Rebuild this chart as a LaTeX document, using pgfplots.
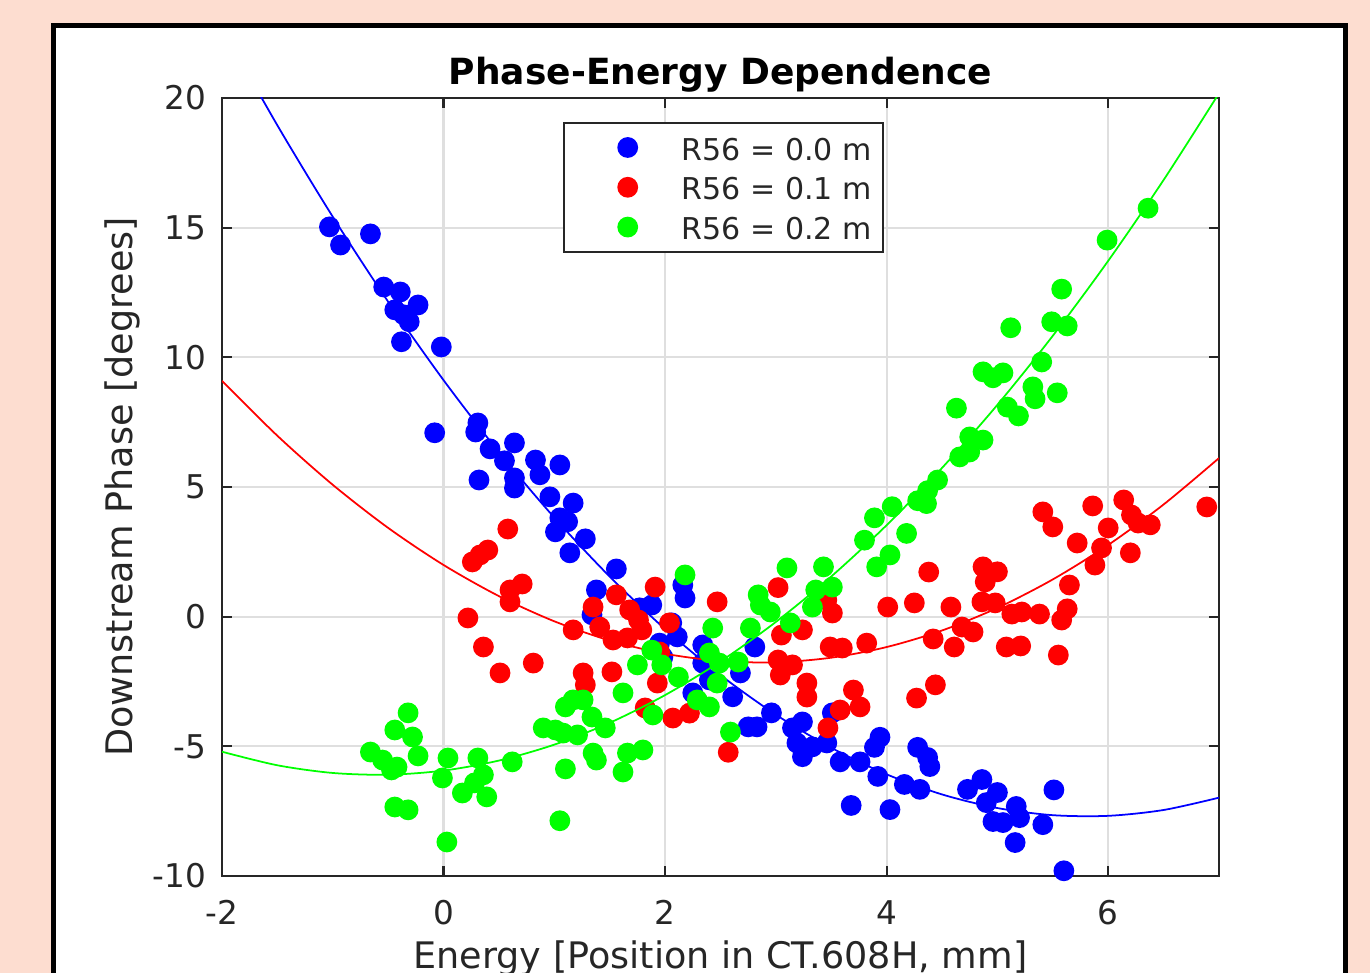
\documentclass[border=0pt]{standalone}
\usepackage{fontspec}
\setmainfont{DejaVu Sans}
\setsansfont{DejaVu Sans}
\usepackage{pgfplots}
\pgfplotsset{compat=1.18}

\definecolor{peach}{RGB}{253,221,208}
\definecolor{axgray}{RGB}{38,38,38}
\definecolor{gridgray}{RGB}{223,223,223}
\definecolor{mblue}{RGB}{0,0,255}
\definecolor{mred}{RGB}{255,0,0}
\definecolor{mgreen}{RGB}{0,255,0}

\begin{document}
\begin{tikzpicture}
\useasboundingbox (-2.22,-0.97) rectangle (11.48,8.76);
\clip (-2.22,-0.97) rectangle (11.48,8.76);
\fill[peach] (-2.22,-0.97) rectangle (11.48,8.76);
\fill[white] (-1.68,-2) rectangle (11.23,8.505);
\draw[black,line width=0.05cm] (-1.68,-2) -- (-1.68,8.505) -- (11.23,8.505) -- (11.23,-2);
\begin{axis}[
  at={(0,0)}, anchor=south west,
  scale only axis, width=9.97cm, height=7.78cm,
  xmin=-2, xmax=7, ymin=-10, ymax=20,
  xtick={-2,0,2,4,6}, xticklabels={-2,0,2,4,6},
  ytick={-10,-5,0,5,10,15,20}, yticklabels={-10,-5,0,5,10,15,20},
  tick align=inside, major tick length=0.1cm,
  xmajorgrids, ymajorgrids,
  grid style={draw=gridgray, line width=0.6pt},
  axis line style={draw=axgray, line width=0.6pt},
  tick style={draw=axgray, line width=0.6pt},
  ticklabel style={font=\fontsize{9.3}{11}\selectfont, text=axgray, inner sep=0pt},
  xticklabel style={yshift=-0.24cm},
  yticklabel style={xshift=-0.15cm},
  title={Phase-Energy Dependence},
  title style={at={(0.5,1)}, anchor=base, yshift=-0.08cm, inner sep=0pt,
    font=\fontsize{10.25}{12}\selectfont\bfseries, text=black},
  xlabel={Energy [Position in CT.608H, mm]},
  xlabel style={at={(axis description cs:0.5,-0.1183)}, anchor=base, inner sep=0pt,
    font=\fontsize{10.4}{12}\selectfont, text=axgray},
  ylabel={Downstream Phase [degrees]},
  ylabel style={at={(axis description cs:-0.0893,0.5)}, anchor=base, inner sep=0pt,
    font=\fontsize{10.4}{12}\selectfont, text=axgray},
  clip mode=individual,
  legend style={at={(axis description cs:0.3417,0.9695)}, anchor=north west,
    draw=axgray, line width=0.6pt, fill=white,
    inner xsep=0.11cm, inner ysep=0.048cm, row sep=0pt, column sep=0pt,
    font=\fontsize{8.55}{10}\selectfont, text=axgray,
    nodes={inner sep=0pt, text height=0.3255cm, text depth=0.0725cm}},
  legend cell align=left,
  legend image code/.code={
    \path[draw=none, fill=none] (0cm,-0.1cm) rectangle (1.07cm,0.1cm);
    \draw[#1] plot coordinates {(0.53cm,0cm)};},
  every axis plot/.append style={line width=0.5pt},
]

% R56 = 0.0 m
\addplot[only marks, mark=*, mark size=0.095cm, color=mblue] table {
x y
-1.03 15.03
-0.93 14.33
-0.66 14.76
-0.54 12.71
-0.39 12.52
-0.23 12.02
-0.44 11.83
-0.36 11.64
-0.31 11.37
-0.38 10.60
-0.02 10.40
-0.08 7.09
0.31 7.47
0.29 7.12
0.42 6.47
0.64 6.70
0.55 6.01
0.83 6.04
1.05 5.85
0.87 5.47
0.64 5.35
0.64 4.96
0.32 5.27
0.96 4.62
1.17 4.38
1.05 3.81
1.12 3.66
1.01 3.27
1.28 3.00
1.14 2.46
1.56 1.84
1.38 1.03
1.34 0.07
1.88 0.45
1.77 0.34
2.16 1.22
2.18 0.72
2.06 -0.24
2.11 -0.78
1.95 -1.02
1.98 -1.56
2.34 -1.09
2.34 -1.79
2.40 -2.44
2.25 -2.94
2.61 -3.09
2.68 -2.17
2.81 -1.17
2.96 -3.71
2.75 -4.25
2.83 -4.25
3.15 -4.29
3.24 -4.06
3.19 -4.87
3.33 -5.02
3.46 -4.87
3.24 -5.40
3.58 -5.60
3.76 -5.60
3.51 -3.71
3.94 -4.65
3.89 -5.04
3.92 -6.16
3.68 -7.28
4.03 -7.44
4.16 -6.47
4.30 -6.66
4.28 -5.04
4.37 -5.43
4.39 -5.78
4.73 -6.66
4.86 -6.28
5.00 -6.78
4.90 -7.17
4.96 -7.90
5.05 -7.94
5.17 -7.32
5.20 -7.75
5.16 -8.71
5.41 -8.02
5.51 -6.68
5.60 -9.80
};
\addlegendentry{R56 = 0.0 m}
\addplot[forget plot, no marks, smooth, color=mblue] table {
x y
-2 22.72
-1.5 18.945
-1 15.42
-0.5 12.145
0 9.12
0.5 6.345
1 3.82
1.5 1.545
2 -0.48
2.5 -2.255
3 -3.78
3.5 -5.055
4 -6.08
4.5 -6.855
5 -7.38
5.5 -7.655
6 -7.68
6.5 -7.455
7 -6.98
};

% R56 = 0.1 m
\addplot[only marks, mark=*, mark size=0.095cm, color=mred] table {
x y
0.58 3.38
0.26 2.11
0.33 2.38
0.40 2.57
0.60 1.03
0.71 1.26
0.60 0.57
0.22 -0.05
0.36 -1.17
0.51 -2.17
0.81 -1.79
1.17 -0.51
1.26 -2.17
1.28 -2.63
1.52 -2.13
1.91 1.14
1.56 0.84
1.35 0.37
1.41 -0.40
1.68 0.26
1.76 -0.13
1.79 -0.51
1.66 -0.82
1.53 -0.90
2.04 -0.24
2.47 0.57
1.93 -2.56
1.82 -3.52
2.07 -3.91
2.22 -3.72
2.57 -5.23
1.95 -1.36
3.02 1.12
3.05 -0.71
3.24 -0.51
3.02 -1.67
3.15 -1.86
3.04 -2.25
3.28 -2.56
3.28 -3.10
3.49 -1.17
3.60 -1.21
3.82 -1.02
3.46 0.64
3.51 0.14
3.70 -2.83
3.76 -3.48
3.58 -3.60
3.47 -4.29
4.01 0.37
4.25 0.53
4.38 1.72
4.58 0.37
4.42 -0.86
4.61 -1.17
4.68 -0.40
4.78 -0.59
4.44 -2.63
4.27 -3.14
4.87 1.92
5.00 1.73
4.89 1.34
4.86 0.57
4.98 0.53
5.08 -1.17
5.21 -1.13
5.13 0.10
5.22 0.18
5.38 0.10
5.58 -0.13
5.63 0.30
5.65 1.22
5.55 -1.48
5.88 1.99
5.72 2.84
5.94 2.65
6.20 2.46
5.41 4.04
5.50 3.46
5.86 4.27
6.14 4.50
6.21 3.92
6.27 3.61
6.38 3.54
6.00 3.42
6.89 4.23
};
\addlegendentry{R56 = 0.1 m}
\addplot[forget plot, no marks, smooth, color=mred] table {
x y
-2 9.095
-1.5 6.975
-1 5.084
-0.5 3.423
0 1.993
0.5 0.792
1 -0.179
1.5 -0.919
2 -1.43
2.5 -1.71
3 -1.761
3.5 -1.582
4 -1.172
4.5 -0.533
5 0.337
5.5 1.436
6 2.765
6.5 4.325
7 6.114
};

% R56 = 0.2 m
\addplot[only marks, mark=*, mark size=0.095cm, color=mgreen] table {
x y
-0.32 -3.71
-0.44 -4.37
-0.28 -4.64
-0.66 -5.22
-0.55 -5.53
-0.42 -5.80
-0.47 -5.91
-0.23 -5.37
0.04 -5.45
0.31 -5.45
0.62 -5.60
-0.01 -6.22
0.36 -6.10
0.28 -6.41
0.17 -6.80
0.39 -6.95
-0.44 -7.34
-0.32 -7.45
0.03 -8.69
0.90 -4.29
1.01 -4.37
1.08 -4.49
1.21 -4.56
1.10 -3.48
1.17 -3.21
1.26 -3.21
1.34 -3.87
1.46 -4.29
1.35 -5.26
1.38 -5.53
1.10 -5.87
1.05 -7.87
1.62 -2.94
1.66 -5.26
1.80 -5.14
1.62 -5.99
1.89 -3.79
1.75 -1.86
1.88 -1.29
1.97 -1.86
2.12 -2.33
2.18 1.61
2.43 -0.44
2.29 -3.21
2.40 -3.48
2.47 -2.56
2.40 -1.40
2.49 -1.79
2.66 -1.75
2.59 -4.45
2.77 -0.44
2.84 0.84
2.86 0.45
2.95 0.18
3.10 1.88
3.13 -0.24
3.36 1.03
3.43 1.92
3.51 1.14
3.33 0.37
3.80 2.95
3.91 1.92
4.03 2.38
3.89 3.81
4.18 3.21
4.05 4.24
4.28 4.47
4.36 4.36
4.37 4.86
4.46 5.27
4.66 6.16
4.75 6.35
4.75 6.93
4.87 6.81
4.63 8.04
5.09 8.08
5.19 7.74
4.87 9.44
4.96 9.21
5.05 9.40
5.32 8.86
5.34 8.40
5.54 8.63
5.40 9.82
5.12 11.14
5.49 11.37
5.63 11.21
5.58 12.63
5.99 14.52
6.36 15.75
};
\addlegendentry{R56 = 0.2 m}
\addplot[forget plot, no marks, smooth, color=mgreen] table {
x y
-2 -5.208
-1.5 -5.731
-1 -6.027
-0.5 -6.095
0 -5.936
0.5 -5.549
1 -4.935
1.5 -4.093
2 -3.024
2.5 -1.727
3 -0.203
3.5 1.549
4 3.528
4.5 5.735
5 8.169
5.5 10.831
6 13.72
6.5 16.837
7 20.181
};
\end{axis}
\end{tikzpicture}
\end{document}
